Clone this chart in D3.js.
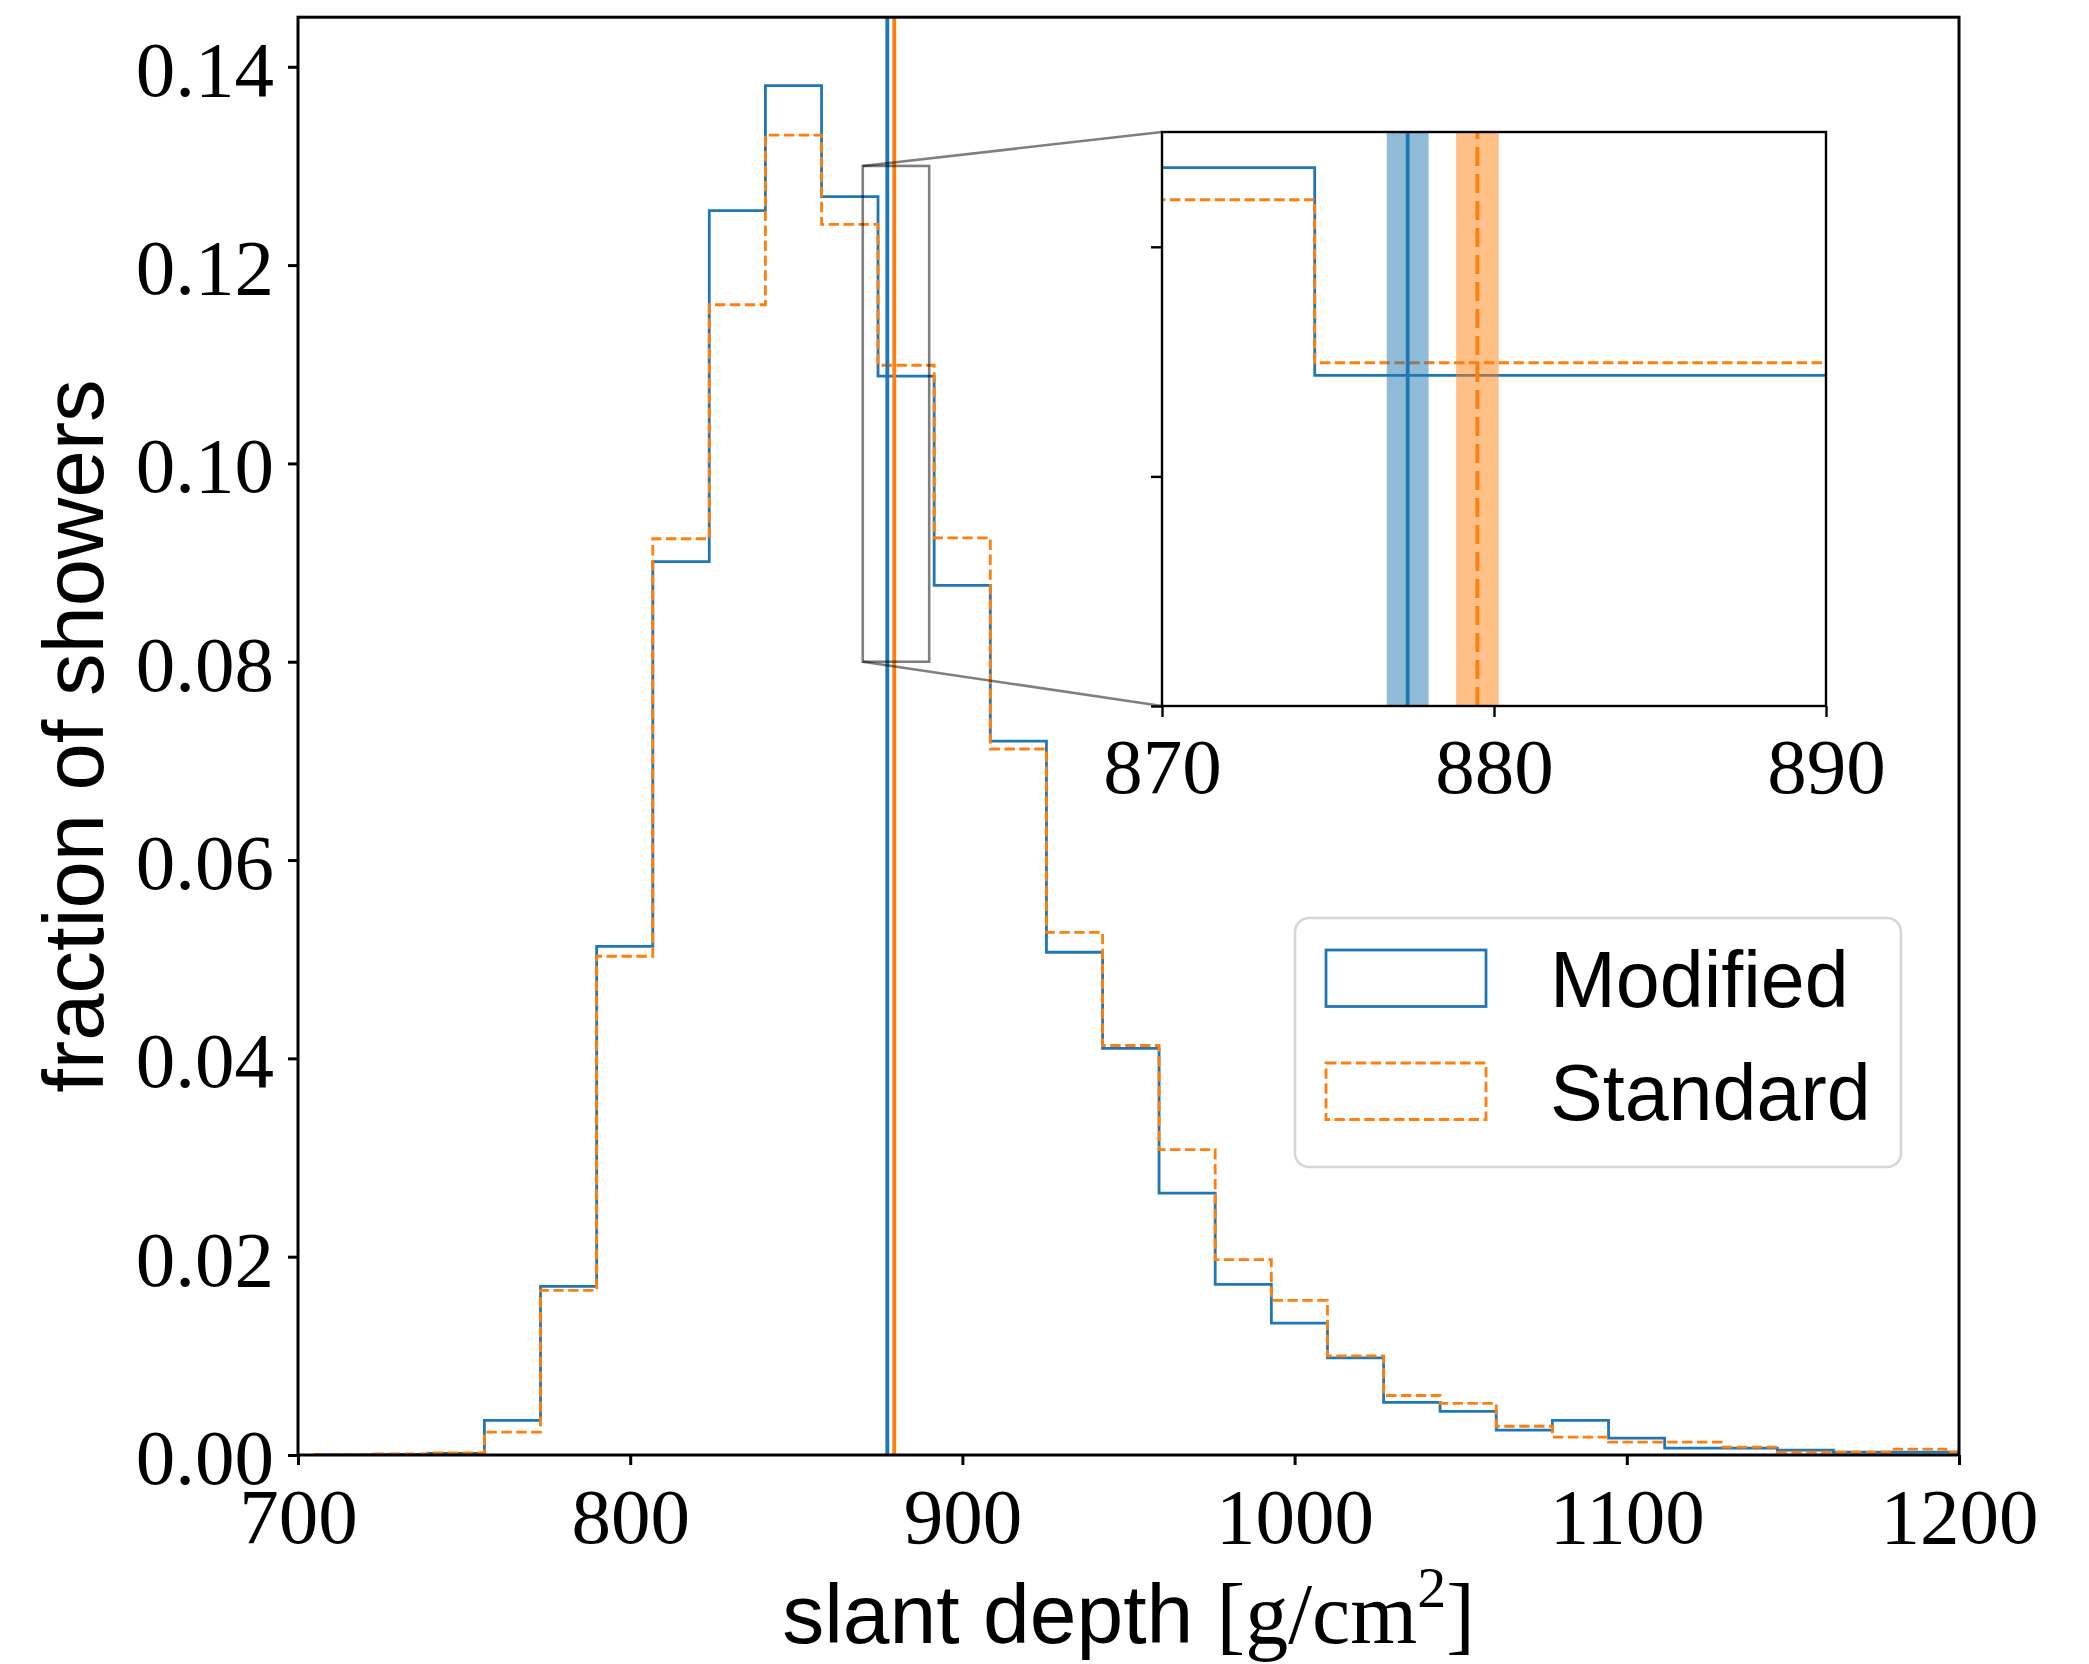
<!DOCTYPE html>
<html>
<head>
<meta charset="utf-8">
<script src="https://cdn.jsdelivr.net/npm/d3@7"></script>
<style>
  html, body { margin: 0; padding: 0; background: #fff; }
  svg { display: block; }
</style>
</head>
<body>
<div id="chart"></div>
<script>
// histogram bin edges (slant depth, g/cm^2), 30 bins shared by both samples
const binEdges = [705.3, 722.2, 739.1, 756.1, 773.0, 789.9, 806.8, 823.8, 840.7, 857.6,
  874.6, 891.5, 908.4, 925.3, 942.2, 959.2, 976.1, 993.0, 1009.9, 1026.8,
  1043.8, 1060.7, 1077.6, 1094.5, 1111.4, 1128.4, 1145.3, 1162.2, 1179.1, 1196.0, 1213.0];

// fraction of showers per bin
const modified = [0.0000, 0.00005, 0.00015, 0.0035, 0.0170, 0.0513, 0.0901, 0.1255, 0.1381, 0.1269,
  0.1088, 0.0877, 0.0720, 0.0507, 0.0410, 0.0264, 0.0172, 0.0133, 0.0098, 0.0053,
  0.0044, 0.0025, 0.0035, 0.0017, 0.0007, 0.0007, 0.0005, 0.0003, 0.0003, 0.0003];
const standard = [0.00006, 0.0001, 0.0002, 0.0023, 0.0166, 0.0503, 0.0924, 0.1160, 0.1331, 0.1241,
  0.1099, 0.0925, 0.0712, 0.0527, 0.0413, 0.0308, 0.0197, 0.0156, 0.0100, 0.0060,
  0.0052, 0.0029, 0.0018, 0.0013, 0.0013, 0.0008, 0.0003, 0.0003, 0.0006, 0.0003];

// mean depth and its uncertainty for each sample
const means = [877.4, 879.5];
const meanErrors = [0.63, 0.64];

const seriesNames = ['Modified', 'Standard'];
const colors = ['#1f77b4', '#ff7f0e'];

const xTicks = [700, 800, 900, 1000, 1100, 1200];
const yTicks = [0, 0.02, 0.04, 0.06, 0.08, 0.10, 0.12, 0.14];
const insetXTicks = [870, 880, 890];
const insetYTicks = [0.08, 0.10, 0.12];
const insetXRange = [870, 890];
const insetYRange = [0.08, 0.13];

const width = 2089, height = 1664;
const serif = "'Liberation Serif', 'DejaVu Serif', serif";
const sans = "'Liberation Sans', Arial, sans-serif";

const svg = d3.select('#chart').append('svg')
  .attr('width', width)
  .attr('height', height)
  .attr('viewBox', `0 0 ${width} ${height}`);

svg.append('rect').attr('width', width).attr('height', height).attr('fill', '#fff');

// main axes
const x = d3.scaleLinear().domain([700, 1200]).range([298, 1959]);
const y = d3.scaleLinear().domain([0, 0.145]).range([1455, 17.2]);

const defs = svg.append('defs');
defs.append('clipPath').attr('id', 'mainClip').append('rect')
  .attr('x', x.range()[0]).attr('y', y.range()[1])
  .attr('width', x.range()[1] - x.range()[0])
  .attr('height', y.range()[0] - y.range()[1]);

// step outline of a histogram, like histtype='step'
function stepPoints(values) {
  const pts = [[binEdges[0], 0]];
  values.forEach((v, i) => {
    pts.push([binEdges[i], v]);
    pts.push([binEdges[i + 1], v]);
  });
  pts.push([binEdges[binEdges.length - 1], 0]);
  return pts;
}

const dashes = ['none', '10.4,4.5'];

function drawPanel(g, xs, ys, clipId, meanLineWidth, meanDash) {
  const line = d3.line().x(d => xs(d[0])).y(d => ys(d[1]));
  const body = g.append('g').attr('clip-path', `url(#${clipId})`);
  [modified, standard].forEach((vals, i) => {
    body.append('path')
      .attr('d', line(stepPoints(vals)))
      .attr('fill', 'none')
      .attr('stroke', colors[i])
      .attr('stroke-width', 2.8)
      .attr('stroke-dasharray', dashes[i])
      .attr('stroke-linejoin', 'miter');
  });
  // uncertainty bands and mean lines
  means.forEach((m, i) => {
    body.append('rect')
      .attr('x', xs(m - meanErrors[i]))
      .attr('width', xs(m + meanErrors[i]) - xs(m - meanErrors[i]))
      .attr('y', ys.range()[1])
      .attr('height', ys.range()[0] - ys.range()[1])
      .attr('fill', colors[i])
      .attr('fill-opacity', 0.5);
  });
  means.forEach((m, i) => {
    body.append('line')
      .attr('x1', xs(m)).attr('x2', xs(m))
      .attr('y1', ys.range()[0]).attr('y2', ys.range()[1])
      .attr('stroke', colors[i])
      .attr('stroke-width', meanLineWidth)
      .attr('stroke-dasharray', meanDash[i]);
  });
}

const main = svg.append('g');
drawPanel(main, x, y, 'mainClip', 3.4, ['none', 'none']);

// zoom indicator rectangle and connectors
const ind = svg.append('g')
  .attr('stroke', '#000').attr('stroke-opacity', 0.5)
  .attr('stroke-width', 2.6).attr('fill', 'none');
ind.append('rect')
  .attr('x', x(insetXRange[0])).attr('y', y(insetYRange[1]))
  .attr('width', x(insetXRange[1]) - x(insetXRange[0]))
  .attr('height', y(insetYRange[0]) - y(insetYRange[1]));

// inset axes
const ix = d3.scaleLinear().domain(insetXRange).range([1162, 1826]);
const iy = d3.scaleLinear().domain(insetYRange).range([706, 132]);

ind.append('line')
  .attr('x1', x(insetXRange[0])).attr('y1', y(insetYRange[1]))
  .attr('x2', ix.range()[0]).attr('y2', iy.range()[1]);
ind.append('line')
  .attr('x1', x(insetXRange[0])).attr('y1', y(insetYRange[0]))
  .attr('x2', ix.range()[0]).attr('y2', iy.range()[0]);

// main frame
svg.append('rect')
  .attr('x', x.range()[0]).attr('y', y.range()[1])
  .attr('width', x.range()[1] - x.range()[0])
  .attr('height', y.range()[0] - y.range()[1])
  .attr('fill', 'none').attr('stroke', '#000').attr('stroke-width', 3);

// main ticks
const xAxis = svg.append('g')
  .attr('transform', `translate(0,${y.range()[0]})`)
  .call(d3.axisBottom(x).tickValues(xTicks).tickSize(10).tickSizeOuter(0).tickPadding(14).tickFormat(d3.format('d')));
xAxis.select('.domain').remove();
xAxis.selectAll('line').attr('stroke-width', 3);
xAxis.selectAll('text')
  .attr('font-family', serif).attr('font-size', 79).attr('fill', '#000')
  .attr('dy', null).attr('y', 88);

const yAxis = svg.append('g')
  .attr('transform', `translate(${x.range()[0]},0)`)
  .call(d3.axisLeft(y).tickValues(yTicks).tickSize(10).tickSizeOuter(0).tickPadding(14).tickFormat(d3.format('.2f')));
yAxis.select('.domain').remove();
yAxis.selectAll('line').attr('stroke-width', 3);
yAxis.selectAll('text')
  .attr('font-family', serif).attr('font-size', 79).attr('fill', '#000')
  .attr('dy', '0.36em');

// axis labels
svg.append('text')
  .attr('x', (x.range()[0] + x.range()[1]) / 2)
  .attr('y', 1643)
  .attr('text-anchor', 'middle')
  .attr('fill', '#000')
  .call(t => {
    t.append('tspan').attr('font-family', sans).attr('font-size', 84).text('slant depth ');
    t.append('tspan').attr('font-family', serif).attr('font-size', 86).text('[g/cm');
    t.append('tspan').attr('font-family', serif).attr('font-size', 58).attr('dy', -36).text('2');
    t.append('tspan').attr('font-family', serif).attr('font-size', 86).attr('dy', 36).text(']');
  });

svg.append('text')
  .attr('transform', `translate(103,${(y.range()[0] + y.range()[1]) / 2}) rotate(-90)`)
  .attr('text-anchor', 'middle')
  .attr('font-family', sans).attr('font-size', 85)
  .attr('fill', '#000')
  .text('fraction of showers');

// legend
const legend = svg.append('g');
legend.append('rect')
  .attr('x', 1295).attr('y', 918).attr('width', 606).attr('height', 249)
  .attr('rx', 14).attr('ry', 14)
  .attr('fill', '#fff').attr('fill-opacity', 0.8)
  .attr('stroke', '#d6d6d6').attr('stroke-width', 2.6);
const legendRows = [[950, 1006.5], [1063, 1119.5]];
seriesNames.forEach((name, i) => {
  legend.append('rect')
    .attr('x', 1326).attr('y', legendRows[i][0])
    .attr('width', 160).attr('height', legendRows[i][1] - legendRows[i][0])
    .attr('fill', 'none')
    .attr('stroke', colors[i]).attr('stroke-width', 2.8)
    .attr('stroke-dasharray', dashes[i]);
  legend.append('text')
    .attr('x', 1550).attr('y', legendRows[i][1])
    .attr('font-family', sans).attr('font-size', 79)
    .attr('fill', '#000')
    .text(name);
});

// inset
defs.append('clipPath').attr('id', 'insetClip').append('rect')
  .attr('x', ix.range()[0]).attr('y', iy.range()[1])
  .attr('width', ix.range()[1] - ix.range()[0])
  .attr('height', iy.range()[0] - iy.range()[1]);

const inset = svg.append('g');
inset.append('rect')
  .attr('x', ix.range()[0]).attr('y', iy.range()[1])
  .attr('width', ix.range()[1] - ix.range()[0])
  .attr('height', iy.range()[0] - iy.range()[1])
  .attr('fill', '#fff');
drawPanel(inset, ix, iy, 'insetClip', 3.8, ['none', '19,8']);

inset.append('rect')
  .attr('x', ix.range()[0]).attr('y', iy.range()[1])
  .attr('width', ix.range()[1] - ix.range()[0])
  .attr('height', iy.range()[0] - iy.range()[1])
  .attr('fill', 'none').attr('stroke', '#000').attr('stroke-width', 2.4);

const ixAxis = inset.append('g')
  .attr('transform', `translate(0,${iy.range()[0]})`)
  .call(d3.axisBottom(ix).tickValues(insetXTicks).tickSize(11).tickSizeOuter(0).tickPadding(14).tickFormat(d3.format('d')));
ixAxis.select('.domain').remove();
ixAxis.selectAll('line').attr('stroke-width', 2.4);
ixAxis.selectAll('text')
  .attr('font-family', serif).attr('font-size', 79).attr('fill', '#000')
  .attr('dy', null).attr('y', 87);

const iyAxis = inset.append('g')
  .attr('transform', `translate(${ix.range()[0]},0)`)
  .call(d3.axisLeft(iy).tickValues(insetYTicks).tickSize(11).tickSizeOuter(0).tickFormat(''));
iyAxis.select('.domain').remove();
iyAxis.selectAll('line').attr('stroke-width', 2.4);
</script>
</body>
</html>
